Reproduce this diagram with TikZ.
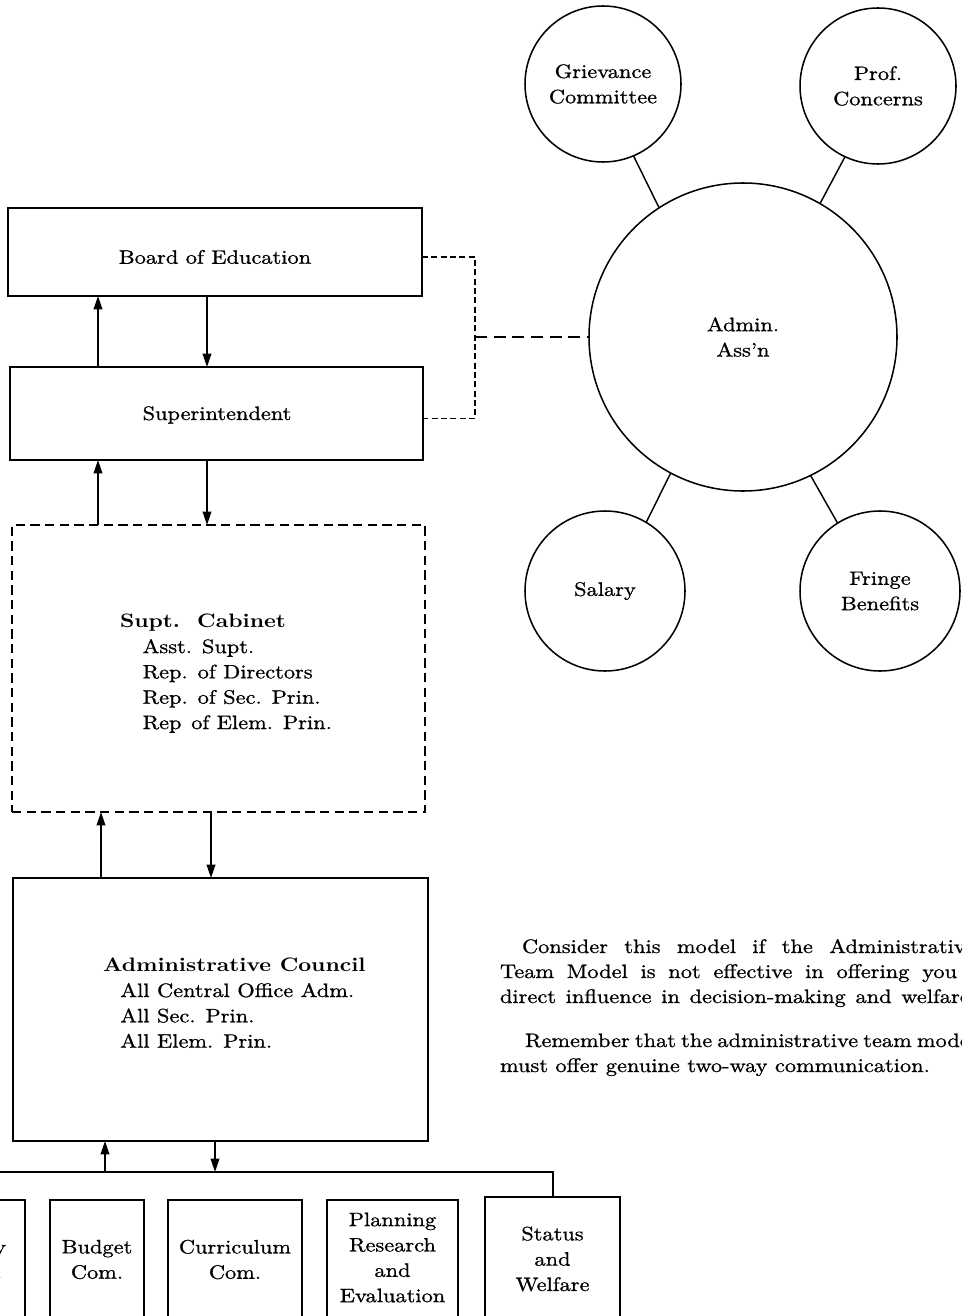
\documentclass[tikz,border=0pt]{standalone}
\usepackage{fontspec}
\setmainfont{lmroman10-regular.otf}[BoldFont=lmroman10-bold.otf, FakeStretch=1.15, UprightFeatures={FakeBold=0.9}]
\usetikzlibrary{arrows.meta}
\begin{document}
\begin{tikzpicture}[x=0.75pt,y=-0.75pt,
  every node/.style={font=\fontsize{14.6pt}{19pt}\selectfont, inner sep=0pt, outer sep=0pt},
  box/.style={draw, line width=1.35pt},
  dbox/.style={draw, line width=1.3pt, dash pattern=on 7pt off 4pt},
  circ/.style={draw, circle, line width=1.15pt, align=center},
  arr/.style={line width=1.1pt, -{Triangle[length=10pt,width=6.5pt]}},
  link/.style={line width=1.1pt},
  dshort/.style={line width=1.15pt, dash pattern=on 4.5pt off 2.5pt},
  dlong/.style={line width=1.3pt, dash pattern=on 9pt off 5pt},
  txt/.style={align=center},
  ltxt/.style={align=left, anchor=west},
  para/.style={anchor=base west}
]
\useasboundingbox (0,0) rectangle (962,1316);
\clip (0,0) rectangle (962,1316);

% ---- left column boxes
\node[box, minimum width=310.5pt, minimum height=66pt] (board) at (215,252) {};
\node (boardt) at (215,257) {Board of Education};
\node[box, minimum width=309.75pt, minimum height=69.75pt] (supt) at (216.5,413.5) {};
\node (suptt) at (217,415) {Superintendent};
\node[dbox, minimum width=309.75pt, minimum height=215.25pt] (cab) at (218.5,668.5) {};
\node[ltxt] (cabt) at (120,673.5) {\textbf{Supt.\ \ Cabinet}\\
  \hspace*{17pt}Asst. Supt.\\
  \hspace*{17pt}Rep. of Directors\\
  \hspace*{17pt}Rep. of Sec. Prin.\\
  \hspace*{17pt}Rep\enspace of Elem. Prin.};
\node[box, minimum width=311.25pt, minimum height=197.25pt] (council) at (220.5,1009.5) {};
\node[ltxt] (councilt) at (103,1003) {\textbf{Administrative Council}\\
  \hspace*{13pt}All Central Office Adm.\\
  \hspace*{13pt}All Sec. Prin.\\
  \hspace*{13pt}All Elem. Prin.};

% ---- bottom committee boxes
\node[box, minimum width=70.5pt, minimum height=105pt] (pol) at (-22,1270) {};
\node[txt] (polt) at (-24,1259.5) {Policy\\Com.};
\node[box, minimum width=70.5pt, minimum height=105pt] (bud) at (97,1270) {};
\node[txt] (budt) at (97,1259.5) {Budget\\Com.};
\node[box, minimum width=100.5pt, minimum height=105pt] (cur) at (235,1270) {};
\node[txt] (curt) at (235,1259.5) {Curriculum\\Com.};
\node[box, minimum width=98.25pt, minimum height=105pt] (plan) at (392.5,1270) {};
\node[txt] (plant) at (392.5,1257.5) {Planning\\Research\\and\\Evaluation};
\node[box, minimum width=101.25pt, minimum height=107.25pt] (stat) at (552.5,1268.5) {};
\node[txt] (statt) at (552.5,1259) {Status\\and\\Welfare};

% ---- arrow x positions
\coordinate (xa) at (98,0);
\coordinate (xb) at (207,0);
\coordinate (xc) at (101,0);
\coordinate (xd) at (211,0);
\coordinate (xe) at (105,0);
\coordinate (xf) at (215,0);

\draw[arr] (supt.north -| xa) -- (board.south -| xa);
\draw[arr] (board.south -| xb) -- (supt.north -| xb);
\draw[arr] (cab.north -| xa) -- (supt.south -| xa);
\draw[arr] (supt.south -| xb) -- (cab.north -| xb);
\draw[arr] (council.north -| xc) -- (cab.south -| xc);
\draw[arr] (cab.south -| xd) -- (council.north -| xd);

% ---- bus line to committees
\coordinate (busL) at (-5,1172);
\coordinate (busR) at (553,1172);
\draw[link] (busL) -- (busR) -- (stat.north -| busR);
\draw[arr] (busL -| xe) -- (council.south -| xe);
\draw[arr] (council.south -| xf) -- (busL -| xf);

% ---- association circles
\node[circ, minimum size=231pt] (admin) at (743,337) {Admin.\\Ass’n};
\node[circ, minimum size=117pt] (griev) at (603,84) {Grievance\\Committee};
\node[circ, minimum size=117pt] (prof) at (878,86) {Prof.\\Concerns};
\node[circ, minimum size=120pt] (sal) at (605,591) {Salary};
\node[circ, minimum size=120pt] (fringe) at (880,591) {Fringe\\Benefits};

\draw[link] (griev.-67) -- (admin.123);
\draw[link] (prof.-115) -- (admin.60);
\draw[link] (sal.59) -- (admin.242);
\draw[link] (fringe.122) -- (admin.-64);

% ---- dashed links
\coordinate (b1) at ([yshift=-3.75pt]board.east);
\coordinate (s1) at ([yshift=-3.75pt]supt.east);
\coordinate (djx) at (475,0);
\coordinate (dj) at (admin.west -| djx);
\draw[dshort] (b1) -- (b1 -| dj) -- (s1 -| dj) -- (s1);
\draw[dlong] (dj) -- (admin.west);

% ---- paragraph text
\node[para] (p1) at (522,953) {\makebox[339.75pt][s]{Consider this model if the Administrative}};
\node[para] (p2) at (500,978) {\makebox[342.75pt][s]{Team Model is not effective in offering you}};
\node[para] (p3) at (500,1003) {\makebox[357pt][s]{direct influence in decision-making and welfare.}};
\node[para] (p4) at (525,1047) {\makebox[338.25pt][s]{Remember that the administrative team model}};
\node[para] (p5) at (500,1072) {must offer genuine two-way communication.};
\end{tikzpicture}
\end{document}
